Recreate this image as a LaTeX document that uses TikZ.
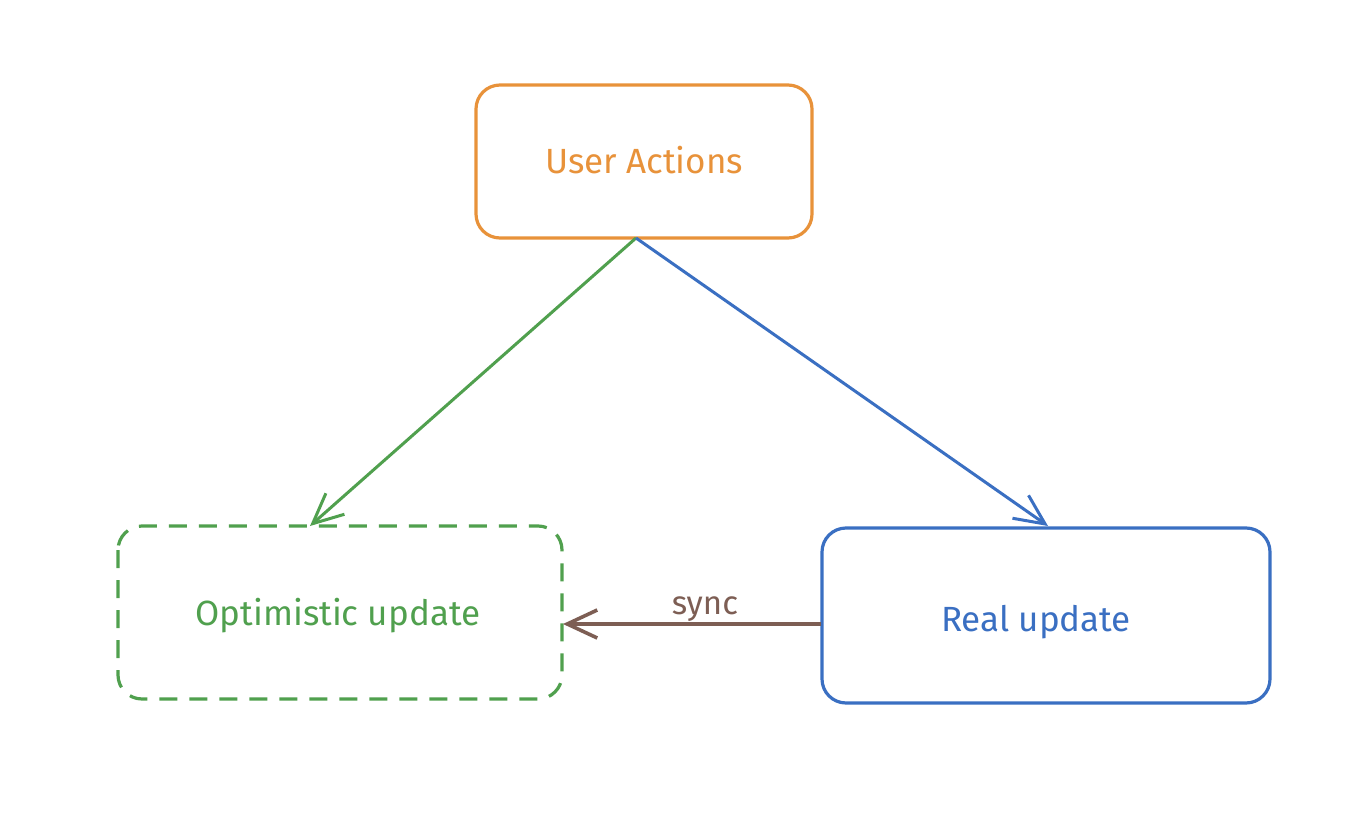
\documentclass[tikz,border=0pt]{standalone}
\usepackage{fontspec}
\setmainfont{Fira Sans}
\usetikzlibrary{arrows.meta}
\definecolor{cOrange}{HTML}{E8923A}
\definecolor{cGreen}{HTML}{50A04E}
\definecolor{cBlue}{HTML}{3A6FC2}
\definecolor{cBrown}{HTML}{7D5E54}
\tikzset{
  box/.style={rounded corners=24pt, line width=3.2pt, fill=white},
  lbl/.style={font=\fontsize{35}{40}\selectfont},
  arr/.style={line width=3pt, -{Straight Barb[length=30pt,width=28pt]}},
}
\begin{document}
\begin{tikzpicture}[x=1pt,y=-1pt]
\useasboundingbox[fill=white] (0,0) rectangle (1352,816);
\draw[box, draw=cOrange] (476,85) rectangle (812,238);
\node[lbl, text=cOrange] (ua) at (644,160) {User Actions};
\coordinate (uabot) at (636,238);
\draw[box, draw=cGreen, dash pattern=on 18pt off 12pt] (118,526) rectangle (562,699);
\node[lbl, text=cGreen] (ou) at (338,616) {Optimistic update};
\coordinate (outop) at (310,526);
\coordinate (ouright) at (563,624);
\draw[box, draw=cBlue] (822,528) rectangle (1270,703);
\node[lbl, text=cBlue] (ru) at (1036,622) {Real update};
\coordinate (rutop) at (1048,526);
\coordinate (ruleft) at (821,624);
\draw[arr, draw=cGreen] (uabot) -- (outop);
\draw[arr, draw=cBlue] (uabot) -- (rutop);
\draw[arr, draw=cBrown, line width=3.6pt] (ruleft) -- node[above, pos=0.45, text=cBrown, font=\fontsize{33}{38}\selectfont, inner sep=1pt] (sy) {sync} (ouright);
\end{tikzpicture}
\end{document}
